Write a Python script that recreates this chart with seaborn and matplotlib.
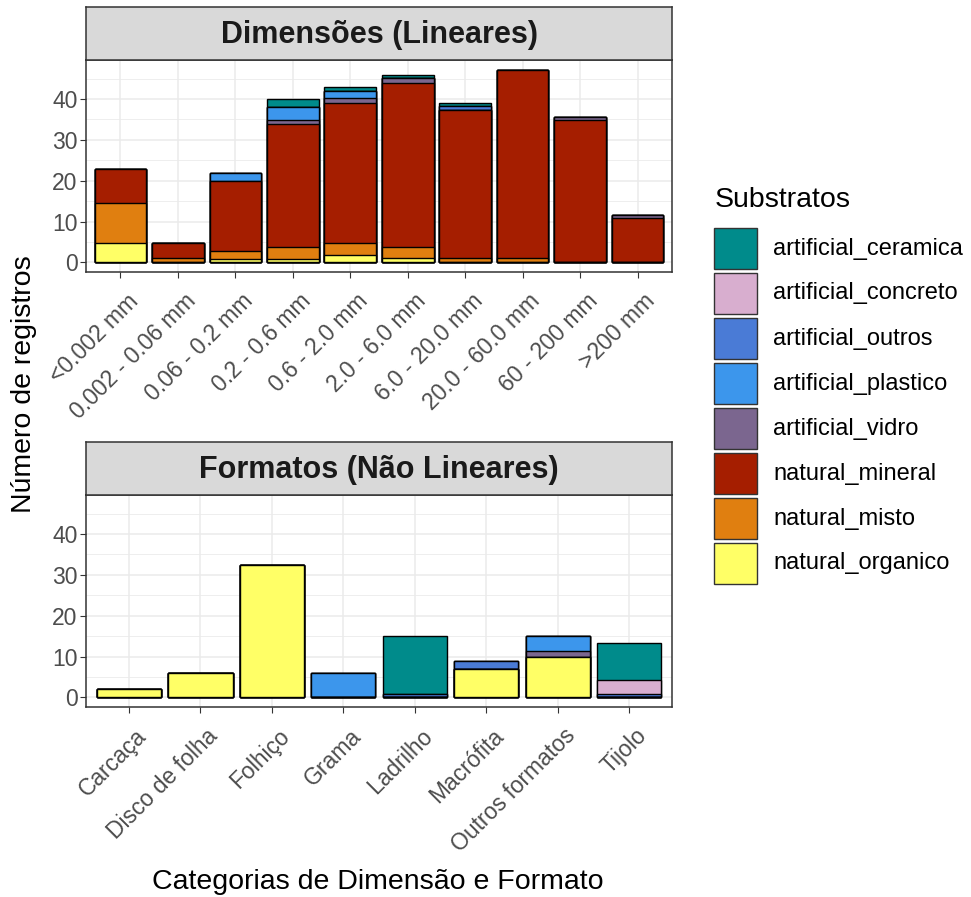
import numpy as np
import pandas as pd
import matplotlib
matplotlib.use("Agg")
import matplotlib.pyplot as plt
from matplotlib.patches import Rectangle
from matplotlib.transforms import ScaledTranslation
import seaborn as sns

sns.set_theme(style="white")
plt.rcParams["font.family"] = ["Liberation Sans", "DejaVu Sans"]

# Substrate levels (legend order) and their fill colours
substratos = ["artificial_ceramica", "artificial_concreto", "artificial_outros",
              "artificial_plastico", "artificial_vidro", "natural_mineral",
              "natural_misto", "natural_organico"]
cores = ["#008B8B", "#D8AECF", "#4A7BD6", "#3C96EC", "#7B668F",
         "#A51E00", "#E07F10", "#FFFF66"]

# Linear size classes
dim_cats = ["<0.002 mm", "0.002 - 0.06 mm", "0.06 - 0.2 mm", "0.2 - 0.6 mm",
            "0.6 - 2.0 mm", "2.0 - 6.0 mm", "6.0 - 20.0 mm", "20.0 - 60.0 mm",
            "60 - 200 mm", ">200 mm"]
dim_ceramica = [0, 0, 0, 1.9, 0.9, 0.7, 0.8, 0, 0, 0]
dim_concreto = [0, 0, 0, 0, 0, 0, 0, 0, 0, 0]
dim_outros   = [0, 0, 0, 0, 0, 0, 1.0, 0, 0, 0]
dim_plastico = [0, 0, 1.9, 3.2, 1.8, 0, 0, 0, 0, 0]
dim_vidro    = [0, 0, 0, 1.1, 1.1, 1.1, 0, 0, 0.7, 0.8]
dim_mineral  = [8.2, 3.8, 17.1, 30.0, 34.3, 40.3, 36.3, 46.2, 34.9, 10.9]
dim_misto    = [9.9, 1.0, 1.9, 2.9, 2.9, 2.7, 1.0, 1.0, 0, 0]
dim_organico = [4.7, 0, 0.9, 0.9, 1.9, 1.0, 0, 0, 0, 0]

# Shape classes
fmt_cats = ["Carcaça", "Disco de folha", "Folhiço", "Grama", "Ladrilho",
            "Macrófita", "Outros formatos", "Tijolo"]
fmt_ceramica = [0, 0, 0, 0, 14.3, 0, 0, 9.0]
fmt_concreto = [0, 0, 0, 0, 0, 0, 0, 3.4]
fmt_outros   = [0, 0, 0, 0, 0.8, 1.9, 0, 0.8]
fmt_plastico = [0, 0, 0, 5.9, 0, 0, 3.7, 0]
fmt_vidro    = [0, 0, 0, 0, 0, 0, 1.3, 0]
fmt_mineral  = [0, 0, 0, 0, 0, 0, 0, 0]
fmt_misto    = [0, 0, 0, 0, 0, 0, 0, 0]
fmt_organico = [2.1, 5.9, 32.3, 0, 0, 7.0, 10.0, 0]

dim_vals = dict(zip(substratos, [dim_ceramica, dim_concreto, dim_outros, dim_plastico,
                                 dim_vidro, dim_mineral, dim_misto, dim_organico]))
fmt_vals = dict(zip(substratos, [fmt_ceramica, fmt_concreto, fmt_outros, fmt_plastico,
                                 fmt_vidro, fmt_mineral, fmt_misto, fmt_organico]))
cor = dict(zip(substratos, cores))

W, H = 971, 897
fig = plt.figure(figsize=(W / 100, H / 100), dpi=100)


def fbox(x0, y0, x1, y1):
    """Pixel box (top-left origin) -> figure fraction rect."""
    return [x0 / W, 1 - y1 / H, (x1 - x0) / W, (y1 - y0) / H]


GRID = "#EBEBEB"
DARK = "#333333"
TICK_TXT = "#4D4D4D"

total_max = max(np.sum([dim_vals[s] for s in substratos], axis=0).max(),
                np.sum([fmt_vals[s] for s in substratos], axis=0).max())
pad = 0.05 * total_max
ylim = (-pad, total_max + pad)


def draw_panel(box, strip_box, cats, vals, title):
    ax = fig.add_axes(fbox(*box))
    # cumulative tops, stacked from the last level upwards
    cum = np.zeros(len(cats))
    tops = {}
    for s in substratos[::-1]:
        cum = cum + np.asarray(vals[s], dtype=float)
        tops[s] = cum.copy()
    for s in substratos:
        df = pd.DataFrame({"categoria": cats, "topo": tops[s]})
        sns.barplot(data=df, x="categoria", y="topo", order=cats, color=cor[s],
                    saturation=1, width=0.9, edgecolor="black", linewidth=1.0,
                    errorbar=None, ax=ax, zorder=2)
    n = len(cats)
    ax.set_xlim(-0.6, n - 0.4)
    ax.set_ylim(*ylim)
    ax.set_yticks([0, 10, 20, 30, 40])
    ax.set_yticks([5, 15, 25, 35, 45], minor=True)
    ax.set_axisbelow(True)
    ax.grid(which="major", color=GRID, linewidth=1.1)
    ax.grid(which="minor", axis="y", color=GRID, linewidth=0.6)
    ax.set_xlabel("")
    ax.set_ylabel("")
    ax.tick_params(axis="both", which="major", length=4, width=0.8, color=DARK,
                   labelcolor=TICK_TXT, labelsize=16.5, pad=2, left=True, bottom=True)
    ax.tick_params(which="minor", length=0)
    ax.set_xticks(range(n))
    ax.set_xticklabels(cats, rotation=45, ha="right", va="top", rotation_mode="anchor")
    shift = ScaledTranslation(6 / 100, -9 / 100, fig.dpi_scale_trans)
    for lab in ax.get_xticklabels():
        lab.set_transform(lab.get_transform() + shift)
    for sp in ax.spines.values():
        sp.set_color(DARK)
        sp.set_linewidth(1.1)
    # facet strip
    sax = fig.add_axes(fbox(*strip_box))
    sax.set_facecolor("#D9D9D9")
    sax.set_xticks([])
    sax.set_yticks([])
    for sp in sax.spines.values():
        sp.set_color(DARK)
        sp.set_linewidth(1.1)
    sax.text(0.5, 0.47, title, transform=sax.transAxes, ha="center", va="center",
             fontsize=22, fontweight="bold", color="#1A1A1A")
    return ax


draw_panel((86, 60, 672, 272), (86, 7, 672, 60), dim_cats, dim_vals, "Dimensões (Lineares)")
draw_panel((86, 495, 672, 707), (86, 442, 672, 495), fmt_cats, fmt_vals, "Formatos (Não Lineares)")

fig.text(24 / W, 1 - 384 / H, "Número de registros", rotation=90, ha="center",
         va="center", fontsize=20.5, color="black")
fig.text(378 / W, 1 - 882 / H, "Categorias de Dimensão e Formato", ha="center",
         va="center", fontsize=20.5, color="black")

# legend
fig.text(715 / W, 1 - 200 / H, "Substratos", ha="left", va="center",
         fontsize=20.5, color="black")
for i, s in enumerate(substratos):
    y0 = 228 + i * 45
    fig.add_artist(Rectangle((714 / W, 1 - (y0 + 41) / H), 43 / W, 41 / H,
                             transform=fig.transFigure, facecolor=cor[s],
                             edgecolor="#333333", linewidth=1.0))
    fig.text(773 / W, 1 - (y0 + 20.5) / H, s, ha="left", va="center",
             fontsize=17, color="black")

fig.savefig("out.png", dpi=100)
